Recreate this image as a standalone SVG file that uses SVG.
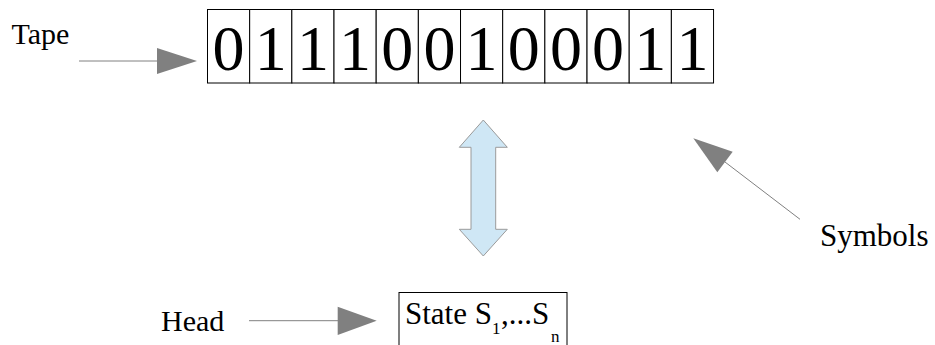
<svg xmlns="http://www.w3.org/2000/svg" width="935" height="345" viewBox="0 0 935 345">
<style>
text{font-family:'Liberation Serif','Times New Roman','DejaVu Serif',serif;fill:#000}
.lbl{font-size:30px}
.big{font-size:31px}
.dig{font-size:64px;text-anchor:middle}
.sub{font-size:17px}
.cell{fill:#fff;stroke:#000;stroke-width:1}
.line{stroke:#808080;stroke-width:1;fill:none}
.head{fill:#808080;stroke:none}
</style>
<rect width="935" height="345" fill="#fff"/>
<g id="tape">
<rect class="cell" x="207.5" y="9.5" width="42.17" height="73.5"/>
<rect class="cell" x="249.67" y="9.5" width="42.17" height="73.5"/>
<rect class="cell" x="291.84" y="9.5" width="42.17" height="73.5"/>
<rect class="cell" x="334.01" y="9.5" width="42.17" height="73.5"/>
<rect class="cell" x="376.18" y="9.5" width="42.17" height="73.5"/>
<rect class="cell" x="418.35" y="9.5" width="42.17" height="73.5"/>
<rect class="cell" x="460.52" y="9.5" width="42.17" height="73.5"/>
<rect class="cell" x="502.69" y="9.5" width="42.17" height="73.5"/>
<rect class="cell" x="544.86" y="9.5" width="42.17" height="73.5"/>
<rect class="cell" x="587.03" y="9.5" width="42.17" height="73.5"/>
<rect class="cell" x="629.2" y="9.5" width="42.17" height="73.5"/>
<rect class="cell" x="671.37" y="9.5" width="42.17" height="73.5"/>
<text class="dig" x="228.6" y="70">0</text>
<text class="dig" x="270.8" y="70">1</text>
<text class="dig" x="312.9" y="70">1</text>
<text class="dig" x="355.1" y="70">1</text>
<text class="dig" x="397.3" y="70">0</text>
<text class="dig" x="439.4" y="70">0</text>
<text class="dig" x="481.6" y="70">1</text>
<text class="dig" x="523.8" y="70">0</text>
<text class="dig" x="565.9" y="70">0</text>
<text class="dig" x="608.1" y="70">0</text>
<text class="dig" x="650.3" y="70">1</text>
<text class="dig" x="692.5" y="70">1</text>
</g>
<g id="state">
<rect class="cell" x="399" y="292.5" width="168" height="60"/>
<text class="big" x="405" y="324.3">State S<tspan class="sub" x="492" y="334.3">1</tspan><tspan x="501" y="324.3">,...S</tspan><tspan class="sub" x="551" y="341.7">n</tspan></text>
</g>
<g id="tape-label"><text class="lbl" x="11.5" y="44.3">Tape</text></g>
<g id="head-label"><text class="lbl" x="161" y="331">Head</text></g>
<g id="symbols-label"><text class="big" x="820" y="245.5">Symbols</text></g>
<g id="rw">
<polygon points="483.3,120 507.3,147.3 495.7,147.3 495.7,229.3 507.3,229.3 483.3,256 459.3,229.3 471,229.3 471,147.3 459.3,147.3" fill="#cfe7f5" stroke="#9a9a9a" stroke-width="1"/>
</g>
<g id="connectors">
<line class="line" x1="79" y1="61" x2="158" y2="61"/>
<polygon class="head" points="157,48 197,61 157,74"/>
<line class="line" x1="249" y1="320.7" x2="338" y2="320.7"/>
<polygon class="head" points="337.7,306.7 376.7,320.7 337.7,335"/>
<line class="line" x1="800" y1="219.3" x2="725" y2="162"/>
<polygon class="head" points="693.3,138.3 732.7,151.7 717.3,172.3"/>
</g>
</svg>
